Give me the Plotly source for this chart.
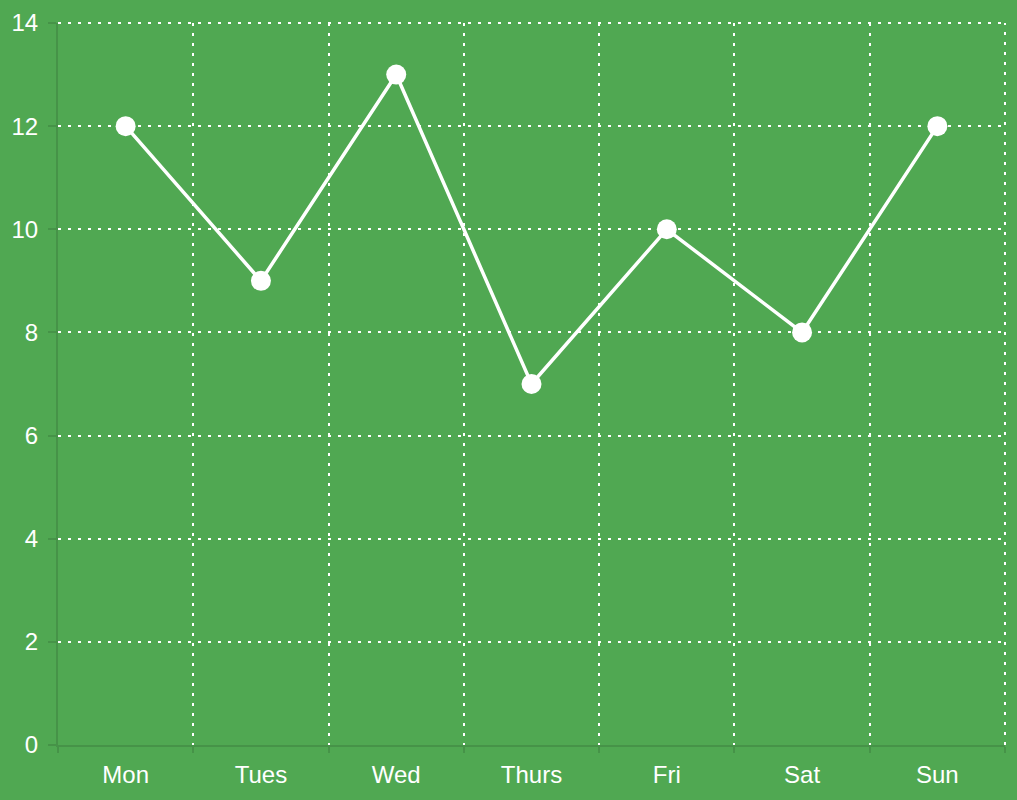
import plotly.graph_objects as go

days = ["Mon", "Tues", "Wed", "Thurs", "Fri", "Sat", "Sun"]
values = [12, 9, 13, 7, 10, 8, 12]
y_ticks = [0, 2, 4, 6, 8, 10, 12, 14]

BG = "#50a852"
AXIS = "rgba(0,0,0,0.12)"
FONT = "Liberation Sans, Arial, sans-serif"
DASH = "3px,7px"

fig = go.Figure(
    go.Scatter(
        x=days,
        y=values,
        mode="lines+markers",
        line=dict(color="white", width=3.5),
        marker=dict(color="white", size=20, line=dict(width=0)),
        hoverinfo="x+y",
    )
)

# top and right plot-edge gridlines (plotly skips gridlines at the edges)
fig.add_shape(type="line", xref="paper", yref="paper", x0=0, x1=1, y0=1, y1=1,
              line=dict(color="white", width=2, dash=DASH), layer="below")
fig.add_shape(type="line", xref="paper", yref="paper", x0=1, x1=1, y0=0, y1=1,
              line=dict(color="white", width=2, dash=DASH), layer="below")

fig.update_layout(
    width=1017,
    height=800,
    paper_bgcolor=BG,
    plot_bgcolor=BG,
    margin=dict(l=58, r=12, t=23, b=55, autoexpand=False),
    showlegend=False,
    font=dict(family=FONT, size=24, color="white"),
)

fig.update_xaxes(
    type="category",
    range=[-0.5, 6.5],
    tickson="boundaries",
    showgrid=True,
    gridcolor="white",
    gridwidth=2,
    griddash=DASH,
    showline=True,
    linecolor=AXIS,
    linewidth=2,
    ticks="outside",
    ticklen=6,
    tickwidth=2,
    tickcolor=AXIS,
    ticklabelstandoff=7,
    tickfont=dict(family=FONT, size=24, color="white"),
    zeroline=False,
    automargin=False,
)

fig.update_yaxes(
    range=[0, 14],
    tickvals=y_ticks,
    showgrid=True,
    gridcolor="white",
    gridwidth=2,
    griddash=DASH,
    showline=True,
    linecolor=AXIS,
    linewidth=2,
    ticks="outside",
    ticklen=8,
    tickwidth=2,
    tickcolor=AXIS,
    ticklabelstandoff=5,
    tickfont=dict(family=FONT, size=24, color="white"),
    zeroline=False,
    automargin=False,
)

fig.write_html(
    "out.html",
    config={"displayModeBar": False},
    post_script="document.body.style.margin='0';document.body.style.background='%s';" % BG,
)
